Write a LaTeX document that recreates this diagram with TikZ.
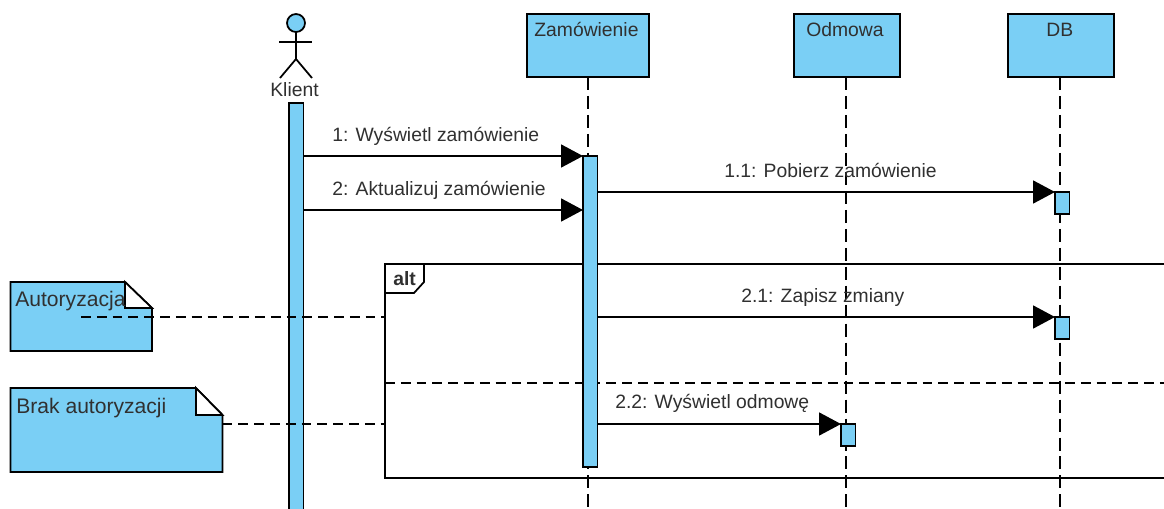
\documentclass[tikz,border=0pt]{standalone}
\usepackage{fontspec}
\setmainfont{Liberation Sans}
\usetikzlibrary{arrows.meta}
\definecolor{umlblue}{HTML}{7ACFF5}
\definecolor{umltext}{HTML}{303030}

\tikzset{
    life/.style={draw=black,fill=umlblue,line width=1pt,minimum height=1.26cm,inner sep=0pt,outer sep=0pt,anchor=north west},
    bar/.style={draw=black,fill=umlblue,line width=1pt,inner sep=0pt,outer sep=0pt,minimum width=0.29cm,anchor=north west},
    lifeline/.style={line width=1pt,dash pattern=on 7.4pt off 3.4pt},
    notelink/.style={line width=1pt,dash pattern=on 5.6pt off 3.4pt},
    msg/.style={line width=1pt,-{Triangle[length=0.44cm,width=0.46cm]}},
    lbl/.style={text=umltext,font=\fontsize{11}{13}\selectfont,inner sep=0pt,anchor=base west},
    notelbl/.style={lbl,font=\fontsize{12}{14}\selectfont},
    notebody/.style={draw=black,fill=umlblue,line width=1pt,line join=miter},
}

\begin{document}
\begin{tikzpicture}[x=0.02cm,y=-0.02cm]

    \clip (0,0) rectangle (1164,508);
    \fill[white] (0,0) rectangle (1164,508);

    % lifelines
    \coordinate (zamend) at (588,508);
    \coordinate (odmend) at (846,508);
    \coordinate (dbend) at (1060,508);

    \node[life,minimum width=2.44cm] (zam) at (527,14) {};
    \node[life,minimum width=2.12cm] (odm) at (794,14) {};
    \node[life,minimum width=2.12cm] (db) at (1008,14) {};
    \node[lbl] at (534,36) {Zamówienie};
    \node[lbl] at (806,36) {Odmowa};
    \node[lbl] at (1046,36) {DB};

    \draw[lifeline] (zam.south -| zamend) -- (zamend);
    \draw[lifeline] (odm.south -| odmend) -- (odmend);
    \draw[lifeline] (db.south -| dbend) -- (dbend);

    % actor
    \draw[line width=1pt,fill=umlblue] (296,23) circle (9);
    \draw[line width=1pt] (296,32) -- (296,59);
    \draw[line width=1pt] (279,42) -- (312,42);
    \draw[line width=1pt] (280,78) -- (296,59) -- (312,78);
    \node[lbl] at (270,96) {Klient};

    % frame
    \draw[line width=1pt] (1170,264) -- (385,264) -- (385,478) -- (1170,478);
    \draw[line width=1pt,fill=white] (385,264) -- (424,264) -- (424,282) -- (414,293) -- (385,293) -- cycle;
    \node[lbl,font=\fontsize{11}{13}\selectfont\bfseries] at (393,285) {alt};
    \coordinate (altleft) at (385,383);
    \coordinate (altright) at (1170,383);
    \draw[notelink] (altleft) -- (altright);

    % activation bars
    \node[bar,minimum height=8.4cm] (klient) at (289,103) {};
    \node[bar,minimum height=6.22cm] (zambar) at (583,156) {};
    \node[bar,minimum height=0.44cm] (dbbar) at (1055,192) {};
    \node[bar,minimum height=0.44cm] (zapbar) at (1055,317) {};
    \node[bar,minimum height=0.44cm] (odmbar) at (841,424) {};

    % notes
    \draw[notebody] (10.5,282) -- (125,282) -- (152,308) -- (152,351) -- (10.5,351) -- cycle;
    \draw[line width=1pt,fill=white] (125,282) -- (152,308) -- (125,308) -- cycle;
    \draw[notebody] (10.5,388) -- (196,388) -- (222.5,415) -- (222.5,472) -- (10.5,472) -- cycle;
    \draw[line width=1pt,fill=white] (196,388) -- (222.5,415) -- (196,415) -- cycle;
    \node[notelbl] at (15,306) {Autoryzacja};
    \node[notelbl] at (16,413) {Brak autoryzacji};
    \coordinate (autlink) at (81,317);
    \coordinate (autframe) at (385,317);
    \coordinate (brlink) at (222.5,424);
    \coordinate (brframe) at (385,424);
    \draw[notelink] (autlink) -- (autframe);
    \draw[notelink] (brlink) -- (brframe);

    % messages
    \coordinate (aktual) at (583,210);
    \draw[msg] (klient.east |- zambar.north west) -- (zambar.north west);
    \draw[msg] (klient.east |- aktual) -- (aktual);
    \draw[msg] (zambar.east |- dbbar.north west) -- (dbbar.north west);
    \draw[msg] (zambar.east |- zapbar.north west) -- (zapbar.north west);
    \draw[msg] (zambar.east |- odmbar.north west) -- (odmbar.north west);

    \node[lbl] at (332,141) {1: Wyświetl zamówienie};
    \node[lbl] at (332,195) {2: Aktualizuj zamówienie};
    \node[lbl] at (724,177) {1.1: Pobierz zamówienie};
    \node[lbl] at (741,302) {2.1: Zapisz zmiany};
    \node[lbl] at (615,408) {2.2: Wyświetl odmowę};
\end{tikzpicture}
\end{document}
